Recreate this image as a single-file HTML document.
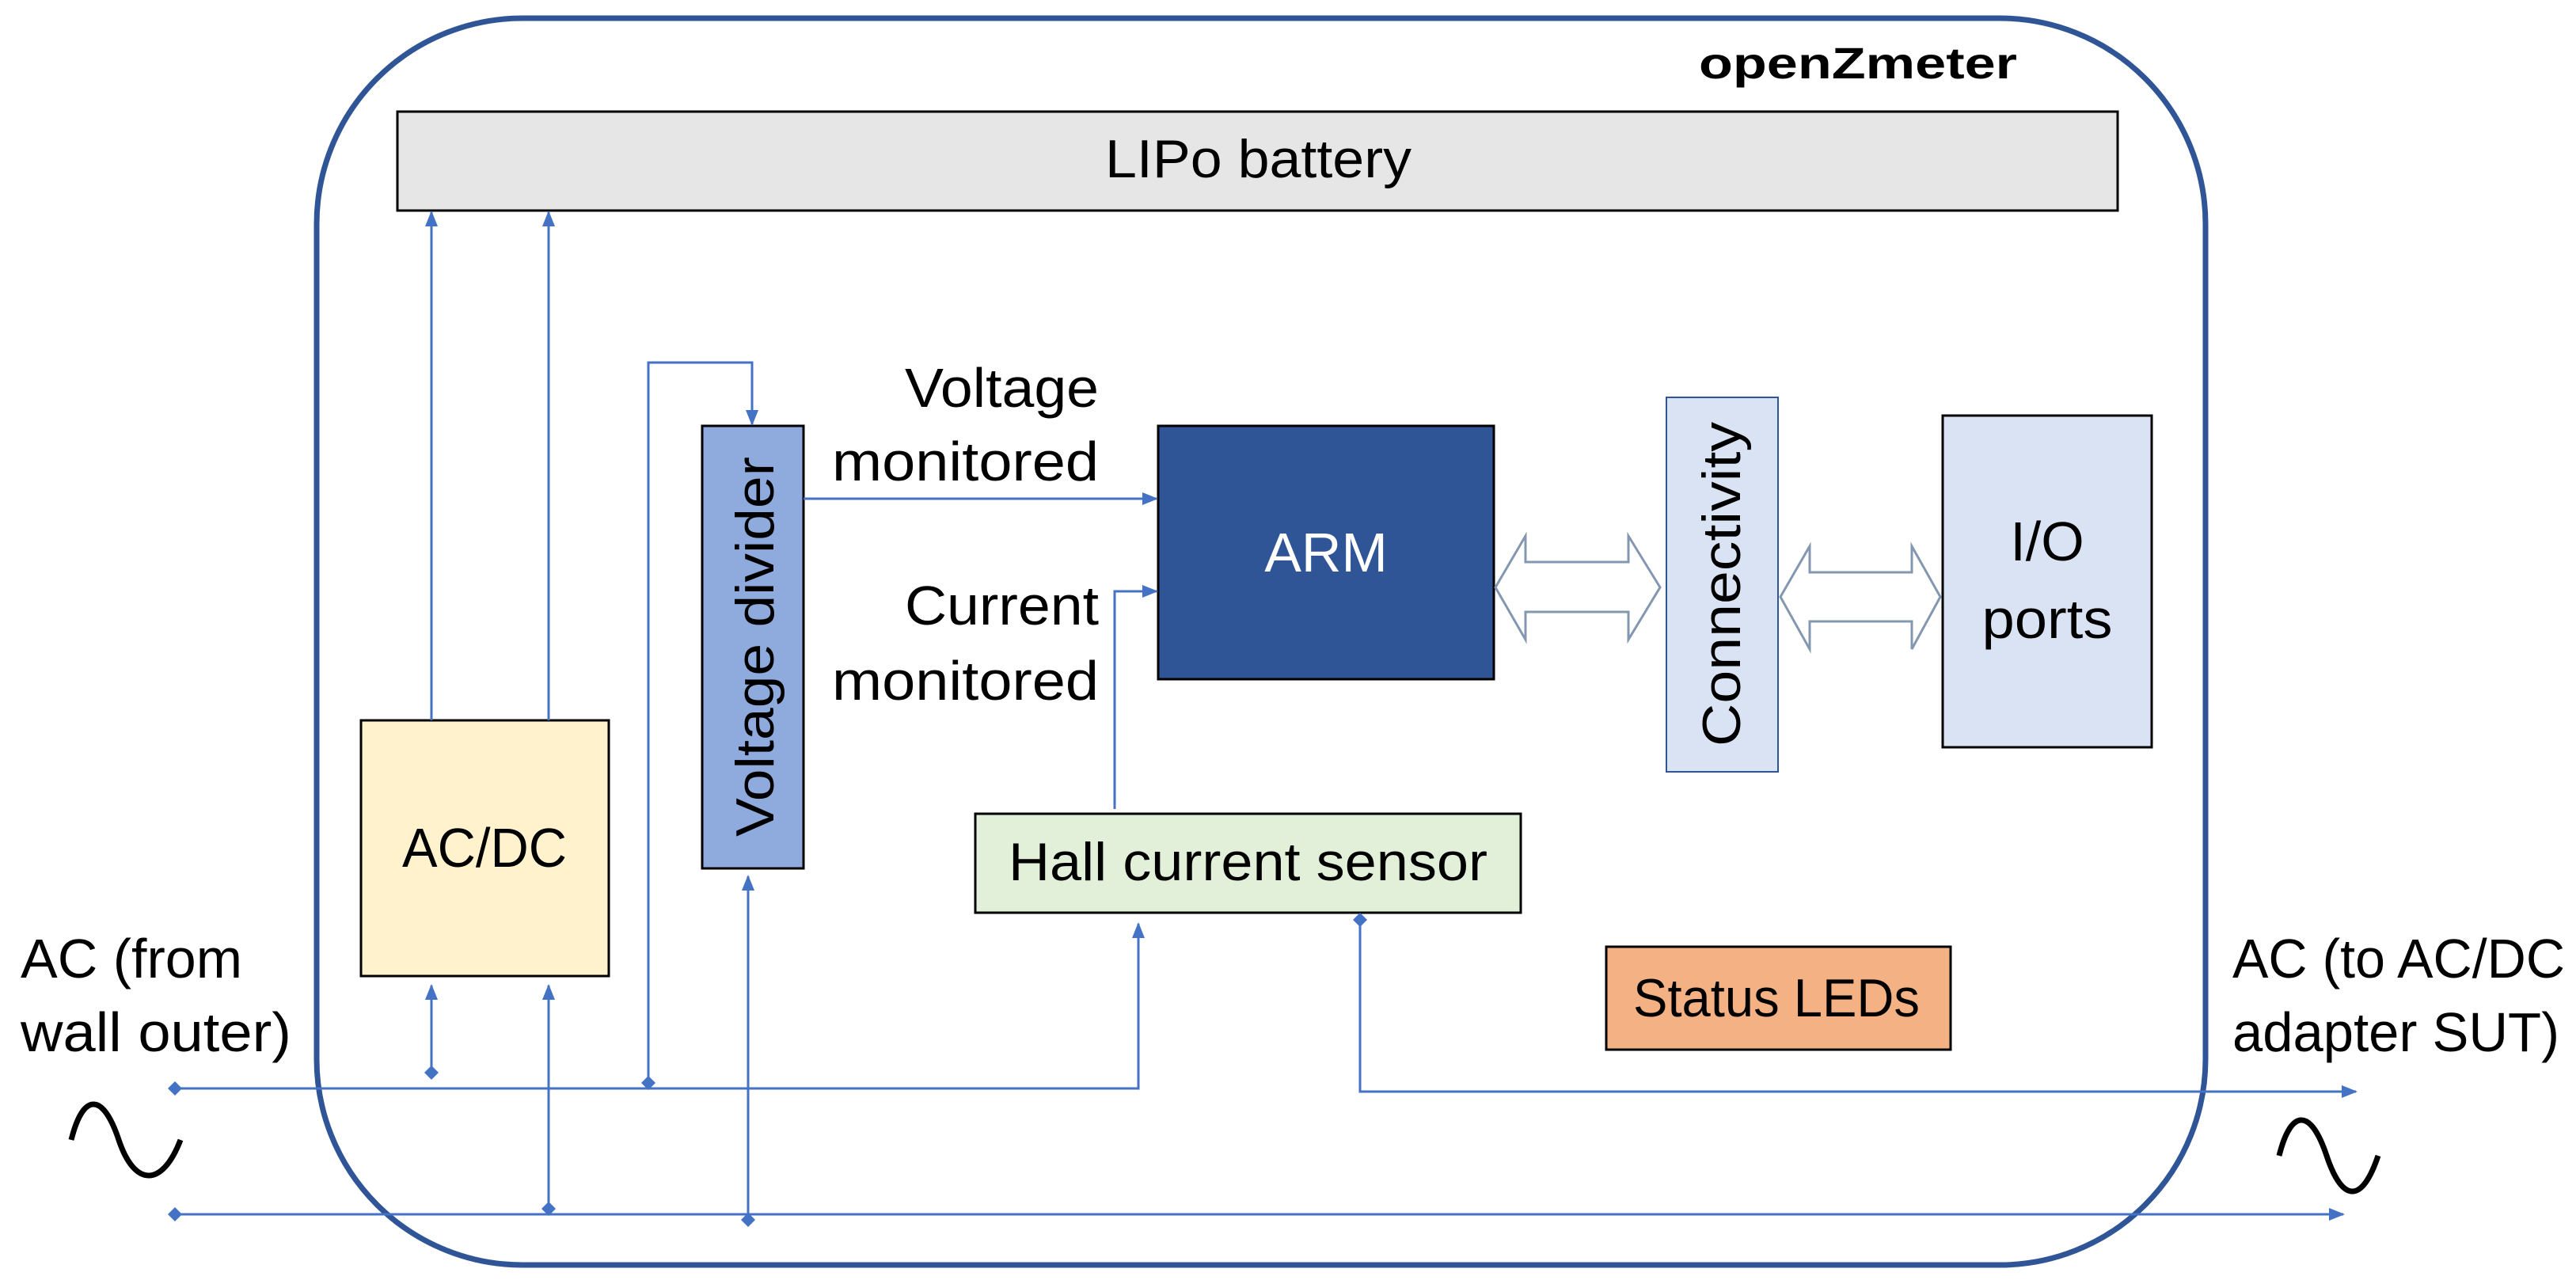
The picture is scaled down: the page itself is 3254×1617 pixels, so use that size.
<!DOCTYPE html>
<html><head><meta charset="utf-8"><style>html,body{margin:0;padding:0;background:#fff}svg{display:block}</style></head>
<body>
<svg width="3254" height="1617" viewBox="0 0 3254 1617" xmlns="http://www.w3.org/2000/svg" font-family="Liberation Sans, sans-serif">
<defs>
<marker id="a" viewBox="0 0 10 10" refX="9" refY="5" markerWidth="20" markerHeight="16" markerUnits="userSpaceOnUse" orient="auto-start-reverse" preserveAspectRatio="none"><path d="M0,0 L10,5 L0,10 z" fill="#4472c4"/></marker>
</defs>
<rect x="400" y="23" width="2386" height="1575" rx="260" ry="260" fill="none" stroke="#2f5597" stroke-width="7"/>
<text x="2548" y="99" font-size="56" font-weight="bold" text-anchor="end" textLength="402" lengthAdjust="spacingAndGlyphs">openZmeter</text>
<rect x="502" y="141" width="2173" height="125" fill="#e7e6e6" stroke="#000" stroke-width="3"/>
<text x="1396" y="224" font-size="68" textLength="387" lengthAdjust="spacingAndGlyphs">LIPo battery</text>
<rect x="456" y="910" width="313" height="323" fill="#fff2cc" stroke="#000" stroke-width="3"/>
<text x="612" y="1095" font-size="70" text-anchor="middle" textLength="208" lengthAdjust="spacingAndGlyphs">AC/DC</text>
<rect x="887" y="538" width="128" height="559" fill="#8faadc" stroke="#000" stroke-width="3"/>
<text transform="translate(977,817) rotate(-90)" font-size="68" text-anchor="middle" textLength="480" lengthAdjust="spacingAndGlyphs">Voltage divider</text>
<rect x="1463" y="538" width="424" height="320" fill="#2f5597" stroke="#000" stroke-width="3"/>
<text x="1675" y="722" font-size="70" fill="#fff" text-anchor="middle">ARM</text>
<rect x="2105" y="502" width="141" height="473" fill="#dae3f3" stroke="#2f5597" stroke-width="2"/>
<text transform="translate(2198,738) rotate(-90)" font-size="68" text-anchor="middle" textLength="410" lengthAdjust="spacingAndGlyphs">Connectivity</text>
<rect x="2454" y="525" width="264" height="419" fill="#dae3f3" stroke="#000" stroke-width="3"/>
<text x="2586" y="708" font-size="70" text-anchor="middle">I/O</text>
<text x="2586" y="806" font-size="70" text-anchor="middle" textLength="165" lengthAdjust="spacingAndGlyphs">ports</text>
<rect x="1232" y="1028" width="689" height="125" fill="#e2f0d9" stroke="#000" stroke-width="3"/>
<text x="1274" y="1112" font-size="68" textLength="605" lengthAdjust="spacingAndGlyphs">Hall current sensor</text>
<rect x="2029" y="1196" width="435" height="130" fill="#f4b183" stroke="#000" stroke-width="3"/>
<text x="2063" y="1284" font-size="68" textLength="362" lengthAdjust="spacingAndGlyphs">Status LEDs</text>
<g font-size="70" text-anchor="end">
<text x="1388" y="514" textLength="245" lengthAdjust="spacingAndGlyphs">Voltage</text>
<text x="1388" y="607" textLength="337" lengthAdjust="spacingAndGlyphs">monitored</text>
<text x="1388" y="789" textLength="245" lengthAdjust="spacingAndGlyphs">Current</text>
<text x="1388" y="884" textLength="337" lengthAdjust="spacingAndGlyphs">monitored</text>
</g>
<text x="26" y="1235" font-size="70" textLength="280" lengthAdjust="spacingAndGlyphs">AC (from</text>
<text x="26" y="1328" font-size="70" textLength="342" lengthAdjust="spacingAndGlyphs">wall outer)</text>
<text x="2820" y="1235" font-size="70" textLength="420" lengthAdjust="spacingAndGlyphs">AC (to AC/DC</text>
<text x="2820" y="1328" font-size="70" textLength="413" lengthAdjust="spacingAndGlyphs">adapter SUT)</text>
<path d="M90,1440 C105,1380 130,1380 150,1440 S205,1500 228,1440" fill="none" stroke="#000" stroke-width="7"/>
<path d="M2879,1460 C2894,1400 2919,1400 2939,1460 S2984,1520 3004,1460" fill="none" stroke="#000" stroke-width="7"/>
<g stroke="#4472c4" stroke-width="3" fill="none">
<line x1="545" y1="910" x2="545" y2="268" marker-end="url(#a)"/>
<line x1="693" y1="910" x2="693" y2="268" marker-end="url(#a)"/>
<line x1="545" y1="1355" x2="545" y2="1245" marker-end="url(#a)"/>
<line x1="693" y1="1530" x2="693" y2="1245" marker-end="url(#a)"/>
<polyline points="221,1375 1438,1375 1438,1167" marker-end="url(#a)"/>
<polyline points="819,1368 819,458 950,458 950,536" marker-end="url(#a)"/>
<line x1="945" y1="1541" x2="945" y2="1107" marker-end="url(#a)"/>
<line x1="221" y1="1534" x2="2960" y2="1534" marker-end="url(#a)"/>
<line x1="1015" y1="630" x2="1461" y2="630" marker-end="url(#a)"/>
<polyline points="1408,1022 1408,747 1461,747" marker-end="url(#a)"/>
<polyline points="1718,1162 1718,1379 2976,1379" marker-end="url(#a)"/>
</g>
<g fill="#4472c4">
<path d="M221,1366 l9,9 -9,9 -9,-9z"/>
<path d="M221,1525 l9,9 -9,9 -9,-9z"/>
<path d="M545,1346 l9,9 -9,9 -9,-9z"/>
<path d="M819,1359 l9,9 -9,9 -9,-9z"/>
<path d="M693,1518 l9,9 -9,9 -9,-9z"/>
<path d="M945,1532 l9,9 -9,9 -9,-9z"/>
<path d="M1718,1153 l9,9 -9,9 -9,-9z"/>
</g>
<g fill="#fff" stroke="#8497b0" stroke-width="3">
<path d="M1889,742 L1927,677 L1927,710 L2057,710 L2057,677 L2097,742 L2057,808 L2057,773 L1927,773 L1927,808 Z"/>
<path d="M2249,754 L2286,690 L2286,723 L2415,723 L2415,690 L2451,754 L2415,820 L2415,785 L2286,785 L2286,820 Z"/>
</g>
</svg>
</body></html>
